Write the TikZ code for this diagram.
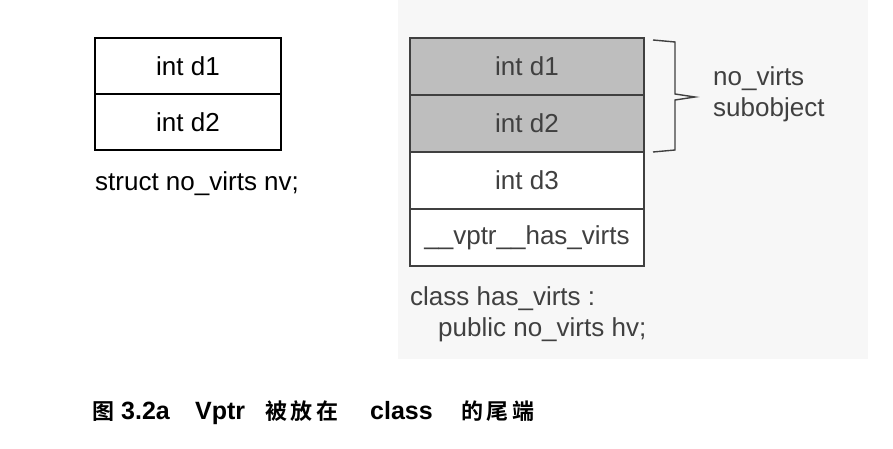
\documentclass[tikz,border=0pt]{standalone}
\usepackage{fontspec}
\setmainfont{Liberation Sans}
\newfontfamily\cjk[BoldFont={Noto Sans CJK SC Bold}]{Noto Sans CJK SC}
\usepackage{xcolor}
\definecolor{panelGray}{RGB}{247, 247, 247}
\definecolor{shadeGray}{RGB}{190, 190, 190}
\definecolor{inkGray}{RGB}{64, 64, 64}

\begin{document}
\begin{tikzpicture}[x=1pt, y=-1pt,
    field/.style={draw=black, line width=1.4pt, minimum width=186pt, minimum height=56pt, inner sep=0pt, outer sep=0pt, font=\fontsize{26}{31}\selectfont},
    hvfield/.style={draw=inkGray, line width=1.5pt, text=inkGray, minimum width=234pt, minimum height=57pt, inner sep=0pt, outer sep=0pt, font=\fontsize{26}{31}\selectfont},
    label/.style={anchor=west, align=left, inner sep=0pt, font=\fontsize{26}{31}\selectfont},
    caption/.style={anchor=base west, inner sep=0pt, font=\fontsize{25}{30}\selectfont\bfseries}]
    \useasboundingbox (0,0) rectangle (893,449);

    % Panel behind the derived class
    \fill[panelGray] (398,0) rectangle (868,359);

    % struct no_virts
    \node[field] (nvd1) at (188,66) {int d1};
    \node[field] (nvd2) at (188,122) {int d2};
    \node[label] (nvname) at (95,184) {struct no\_virts nv;};

    % class has_virts
    \node[hvfield, fill=shadeGray] (hvd1) at (527,66.5) {int d1};
    \node[hvfield, fill=shadeGray] (hvd2) at (527,123.5) {int d2};
    \node[hvfield, fill=white] (hvd3) at (527,180.5) {int d3};
    \node[hvfield, fill=white] (hvptr) at (527,237.5) {\_\_vptr\_\_has\_virts};
    \node[label, text=inkGray] (hvname) at (410,314) {class has\_virts :\\\hspace*{28pt}public no\_virts hv;};

    % Bracket round the subobject
    \coordinate (tip) at (695,97);
    \draw[inkGray, line width=1.4pt] (653,40) -- (675,42) -- (675,94) -- (tip) -- (675,100) -- (675,150) -- (653,152);
    \node[label, text=inkGray] (subobj) at (713,94) {no\_virts\\subobject};

    % Caption
    \node[caption] (fig) at (92,419) {\cjk\fontsize{22}{26}\selectfont 图};
    \node[caption] (num) at (121,419) {3.2a};
    \node[caption] (vptr) at (195,419) {Vptr};
    \node[caption] (put) at (265,419) {\cjk\fontsize{22}{26}\selectfont 被\,放\,在};
    \node[caption] (cls) at (370,419) {class};
    \node[caption] (tail) at (461,419) {\cjk\fontsize{22}{26}\selectfont 的\,尾\,端};
\end{tikzpicture}
\end{document}
